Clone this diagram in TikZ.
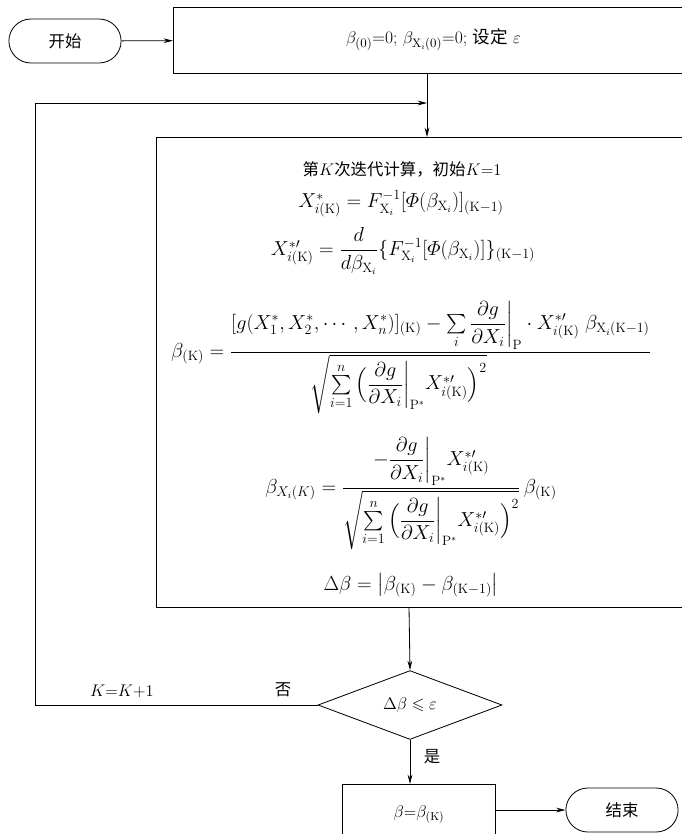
\documentclass[tikz,border=0pt]{standalone}
\usepackage{amsmath,amssymb}
\usepackage{fontspec}
\newfontfamily\cjk{Noto Sans CJK SC}
\usetikzlibrary{shapes.geometric,shapes.misc,arrows.meta,positioning}

\newcommand{\Kr}{\mathrm{K}}
\newcommand{\Xr}{\mathrm{X}}
\newcommand{\dgdx}[1]{\dfrac{\partial g}{\partial X_i}\bigg|_{#1}}

\begin{document}
\begin{tikzpicture}[
    x=0.03cm, y=-0.03cm,
    font=\fontsize{14}{17}\selectfont,
    term/.style={rounded rectangle, draw, line width=0.7pt,
                minimum width=3.6cm, minimum height=1.32cm},
    box/.style={rectangle, draw, line width=0.7pt},
    decide/.style={diamond, draw, line width=0.7pt, inner sep=0pt,
                minimum width=5.52cm, minimum height=1.74cm},
    formula/.style={font=\fontsize{16.5}{20}\selectfont},
    arrow/.style={-{Stealth[length=8pt,width=4pt]}, line width=0.7pt},
    link/.style={line width=0.7pt}
]
    \useasboundingbox (0,0) rectangle (682,834);

    \node[term] (start) at (65,41) {\cjk 开始};
    \node[box, anchor=west, minimum width=15.6cm, minimum height=1.98cm,
          font=\fontsize{15}{18}\selectfont] (init) at (173,40)
        {$\beta_{(0)}$=0; $\beta_{\Xr_i(0)}$=0; {\cjk 设定} $\varepsilon$\hspace{0.4cm}};

    % iteration box and its formulas
    \draw[box] (156,137) rectangle (700,607);
    \coordinate (iterTop) at (427,137);
    \coordinate (iterBot) at (409,607);

    \node (title) at (402,169) {{\cjk 第}$K${\cjk 次迭代计算，初始}$K$=1};
    \node[formula] (eqXstar) at (401,204)
        {$X^{*}_{i(\Kr)} = F^{-1}_{\Xr_i}[\varPhi(\beta_{\Xr_i})]_{(\Kr-1)}$};
    \node[formula] (eqXprime) at (403,251)
        {$X^{*\prime}_{i(\Kr)} = \dfrac{d}{d\beta_{\Xr_i}}\{F^{-1}_{\Xr_i}[\varPhi(\beta_{\Xr_i})]\}_{(\Kr-1)}$};
    \node[formula, anchor=base west, inner sep=0pt] (eqBeta) at (171,357)
        {$\beta_{(\Kr)} = \dfrac{[g(X^*_1,X^*_2,\cdots,X^*_n)]_{(\Kr)} - \sum\limits_i \dgdx{\mathrm{P}}\cdot X^{*\prime}_{i(\Kr)}\;\beta_{\Xr_i(\Kr-1)}}
        {\sqrt{\sum\limits_{i=1}^{n}\Big(\dgdx{\mathrm{P}^*} X^{*\prime}_{i(\Kr)}\Big)^2}\hspace{2.5cm}}$};
    \node[formula, anchor=base, inner sep=0pt] (eqBetaX) at (411,493)
        {$\beta_{X_i(K)} = \dfrac{-\dgdx{\mathrm{P}^*} X^{*\prime}_{i(\Kr)}}
        {\sqrt{\sum\limits_{i=1}^{n}\Big(\dgdx{\mathrm{P}^*} X^{*\prime}_{i(\Kr)}\Big)^2}}\,\beta_{(\Kr)}$};
    \node[formula] (eqDelta) at (411,585)
        {$\Delta\beta = \big|\beta_{(\Kr)} - \beta_{(\Kr-1)}\big|$};

    \node[decide] (check) at (410,705) {$\Delta\beta \leqslant \varepsilon$};
    \node[box, anchor=north, minimum width=4.6cm, minimum height=1.8cm] (result) at (419,784)
        {$\beta$=$\beta_{(\Kr)}$};
    \node[term] (stop) at (622,810) {\cjk 结束};
    \coordinate (loopLow) at (35,705);
    \coordinate (loopHigh) at (35,103);

    \draw[arrow] (start) -- (init);
    \draw[arrow] (init.south -| iterTop) -- (iterTop);
    \draw[arrow] (check.west) -- (loopLow) -- (loopHigh) -- (loopHigh -| iterTop);
    \draw[arrow] (iterBot) -- (check.north);
    \draw[arrow] (check.south) -- (check.south |- result.north);
    \draw[arrow] (result.east |- stop) -- (stop);

    \node (incr) at (122,691) {$K$=$K$+1};
    \node (no) at (283,690) {\cjk 否};
    \node (yes) at (432,757) {\cjk 是};
\end{tikzpicture}
\end{document}
